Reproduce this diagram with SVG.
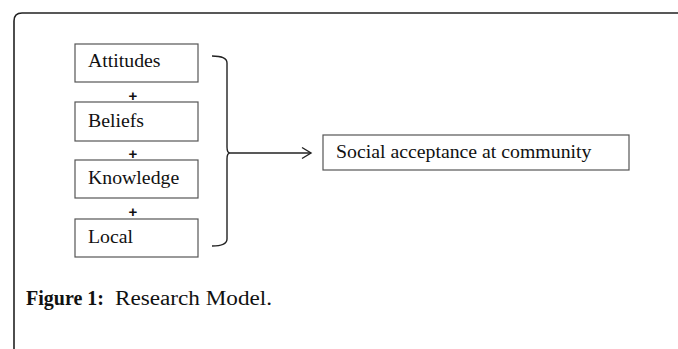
<svg xmlns="http://www.w3.org/2000/svg" width="678" height="349" viewBox="0 0 678 349">
<style>
.box{fill:#fff;stroke:#555;stroke-width:1.2}
.lbl{font-family:"Liberation Serif","Times New Roman",serif;font-size:19.8px;fill:#111}
.plus{font-family:"Liberation Sans",Arial,sans-serif;font-size:15px;font-weight:bold;fill:#111;text-anchor:middle}
.conn{fill:none;stroke:#222;stroke-width:1.4}
</style>
<rect width="678" height="349" fill="#fff"/>
<path d="M14,349 L14,21 Q14,13 22,13 L678,13" fill="none" stroke="#222" stroke-width="1.6"/>
<g id="attitudes"><rect class="box" x="75" y="44" width="123" height="38"/><text class="lbl" x="88" y="67">Attitudes</text></g>
<g id="beliefs"><rect class="box" x="75" y="102" width="123" height="39"/><text class="lbl" x="88" y="127">Beliefs</text></g>
<g id="knowledge"><rect class="box" x="75" y="160" width="123" height="38"/><text class="lbl" x="88" y="184">Knowledge</text></g>
<g id="local"><rect class="box" x="75" y="219" width="123" height="38"/><text class="lbl" x="88" y="243">Local</text></g>
<g id="social"><rect class="box" x="323" y="135" width="306" height="35"/><text class="lbl" x="336" y="158">Social acceptance at community</text></g>
<g id="plus-signs">
<text class="plus" x="133" y="101">+</text>
<text class="plus" x="133" y="159">+</text>
<text class="plus" x="133" y="217">+</text>
</g>
<g id="connectors">
<path class="conn" d="M212,56 Q227,56 227,63 L227,147 Q227,153 230,153 Q227,153 227,159 L227,239 Q227,246 212,246"/>
<path class="conn" d="M230,153 L311,153"/>
<path class="conn" d="M302,147.5 L311,153 L302,158.5"/>
</g>
<text x="26" y="305" font-family="'Liberation Serif','Times New Roman',serif" font-size="20" fill="#111"><tspan font-weight="bold">Figure 1:</tspan><tspan x="115" textLength="157" lengthAdjust="spacingAndGlyphs">Research Model.</tspan></text>
</svg>
